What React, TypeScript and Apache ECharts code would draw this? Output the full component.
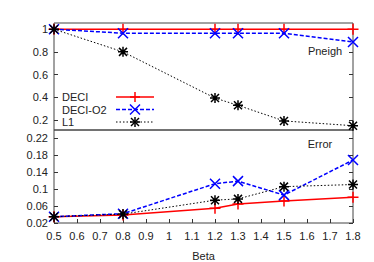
import React, { useEffect, useRef } from 'react';
import * as echarts from 'echarts';

const betas = [0.5, 0.8, 1.2, 1.3, 1.5, 1.8];
const seriesNames = ['DECI', 'DECI-O2', 'L1'];
const pneighDECI = [1, 1, 1, 1, 1, 1];
const pneighO2 = [1, 0.965, 0.965, 0.965, 0.965, 0.888];
const pneighL1 = [1, 0.8, 0.392, 0.328, 0.19, 0.148];
const errDECI = [0.035, 0.039, 0.055, 0.065, 0.072, 0.081];
const errO2 = [0.035, 0.042, 0.113, 0.119, 0.086, 0.169];
const errL1 = [0.035, 0.041, 0.074, 0.077, 0.106, 0.111];
const xTicks = [0.5, 0.6, 0.7, 0.8, 0.9, 1, 1.1, 1.2, 1.3, 1.4, 1.5, 1.6, 1.7, 1.8];
const pneighTicks = [0.2, 0.4, 0.6, 0.8, 1];
const errTicks = [0.02, 0.06, 0.1, 0.14, 0.18, 0.22];
const panelTitles = ['Pneigh', 'Error'];
const xName = 'Beta';

const COLORS = ['#ff0000', '#0000ff', '#000000'];
const SYMBOLS = [
  'path://M5,0L5,10M0,5L10,5',
  'path://M0,0L10,10M10,0L0,10',
  'path://M5,0L5,10M0,5L10,5M1,1L9,9M9,1L1,9',
];
const LINE_TYPES: any[] = ['solid', [4, 2], [1.5, 2]];
const LINE_WIDTHS = [1.5, 1.5, 1];
const FONT = '"Liberation Sans", Arial, sans-serif';

function pairs(vals: number[]) {
  return betas.map((b, i) => [b, vals[i]]);
}

function markerShapes(k: number, cx: number, cy: number, r: number) {
  const segs: number[][] = [];
  if (k === 0 || k === 2) {
    segs.push([cx, cy - r, cx, cy + r], [cx - r, cy, cx + r, cy]);
  }
  if (k === 1 || k === 2) {
    const d = k === 2 ? r * 0.8 : r;
    segs.push([cx - d, cy - d, cx + d, cy + d], [cx + d, cy - d, cx - d, cy + d]);
  }
  return segs.map((s) => ({
    type: 'line',
    shape: { x1: s[0], y1: s[1], x2: s[2], y2: s[3] },
    style: { stroke: COLORS[k], lineWidth: 1.5 },
    z: 100,
  }));
}

export default function App() {
  const ref = useRef<HTMLDivElement>(null);
  useEffect(() => {
    if (!ref.current) return;
    const chart = echarts.init(ref.current, undefined, { renderer: 'svg' });
    const axisLabel = { fontFamily: FONT, fontSize: 11, color: '#222' };
    const left = 54, width = 299;
    const grids = [
      { left, top: 23, width, height: 107 },
      { left, top: 130, width, height: 97 },
    ];
    const xAxes = grids.map((_, gi) => ({
      type: 'value',
      gridIndex: gi,
      min: 0.5,
      max: 1.8,
      axisLine: { show: false },
      splitLine: { show: false },
      axisTick: {
        show: gi === 1,
        inside: true,
        length: 4,
        lineStyle: { color: '#333' },
        customValues: xTicks,
      },
      axisLabel: {
        show: gi === 1,
        ...axisLabel,
        margin: 7,
        customValues: xTicks,
        formatter: (v: number) => String(Math.round(v * 10) / 10),
      },
      name: gi === 1 ? xName : '',
      nameLocation: 'middle',
      nameGap: 27,
      nameTextStyle: { fontFamily: FONT, fontSize: 11, color: '#222' },
    }));
    const yRanges = [
      { min: 0.11, max: 1.055, ticks: pneighTicks },
      { min: 0.02, max: 0.24, ticks: errTicks },
    ];
    const yAxes: any[] = [];
    yRanges.forEach((r, gi) => {
      ['left', 'right'].forEach((pos) => {
        yAxes.push({
          type: 'value',
          gridIndex: gi,
          position: pos,
          min: r.min,
          max: r.max,
          axisLine: { show: false },
          splitLine: { show: false },
          axisTick: {
            show: true,
            inside: true,
            length: 4,
            lineStyle: { color: '#333' },
            customValues: r.ticks,
          },
          axisLabel: {
            show: pos === 'left',
            ...axisLabel,
            margin: 6,
            customValues: r.ticks,
            formatter: (v: number) => String(Math.round(v * 100) / 100),
          },
        });
      });
    });
    const data = [
      [pneighDECI, pneighO2, pneighL1],
      [errDECI, errO2, errL1],
    ];
    const series: any[] = [];
    data.forEach((panel, gi) => {
      panel.forEach((vals, k) => {
        series.push({
          type: 'line',
          name: seriesNames[k],
          xAxisIndex: gi,
          yAxisIndex: gi * 2,
          data: pairs(vals),
          clip: false,
          symbol: SYMBOLS[k],
          symbolSize: k === 0 ? 11 : 10,
          showAllSymbol: true,
          lineStyle: { color: COLORS[k], width: LINE_WIDTHS[k], type: LINE_TYPES[k] },
          itemStyle: { color: 'none', borderColor: COLORS[k], borderWidth: 1.5 },
          z: 3 + k,
        });
      });
    });
    const graphic: any[] = [];
    // legend
    const legY = [97, 109.5, 122];
    seriesNames.forEach((n, k) => {
      graphic.push({
        type: 'text',
        x: 62,
        y: legY[k],
        style: {
          text: n,
          fontFamily: FONT,
          fontSize: 11,
          fill: '#222',
          textVerticalAlign: 'middle',
          verticalAlign: 'middle',
        },
        z: 100,
      });
      graphic.push({
        type: 'line',
        shape: { x1: 116, y1: legY[k], x2: 154, y2: legY[k] },
        style: {
          stroke: COLORS[k],
          lineWidth: LINE_WIDTHS[k],
          lineDash: k === 0 ? null : LINE_TYPES[k],
        },
        z: 100,
      });
      graphic.push(...markerShapes(k, 135, legY[k], 5));
    });
    graphic.push({
      type: 'text',
      x: 325,
      y: 51,
      style: {
        text: panelTitles[0],
        fontFamily: FONT,
        fontSize: 11,
        fill: '#222',
        align: 'center',
        verticalAlign: 'middle',
      },
      z: 100,
    });
    graphic.push({
      type: 'text',
      x: 320,
      y: 144,
      style: {
        text: panelTitles[1],
        fontFamily: FONT,
        fontSize: 11,
        fill: '#222',
        align: 'center',
        verticalAlign: 'middle',
      },
      z: 100,
    });
    chart.setOption({
      animation: false,
      backgroundColor: '#ffffff',
      grid: grids.map((g) => ({
        ...g,
        show: true,
        borderColor: '#444',
        borderWidth: 1,
        backgroundColor: 'transparent',
      })),
      xAxis: xAxes,
      yAxis: yAxes,
      series,
      graphic,
    });
    return () => chart.dispose();
  }, []);
  return (
    <div
      ref={ref}
      style={{ width: 374, height: 262, position: 'absolute', left: 0, top: 0 }}
    />
  );
}
